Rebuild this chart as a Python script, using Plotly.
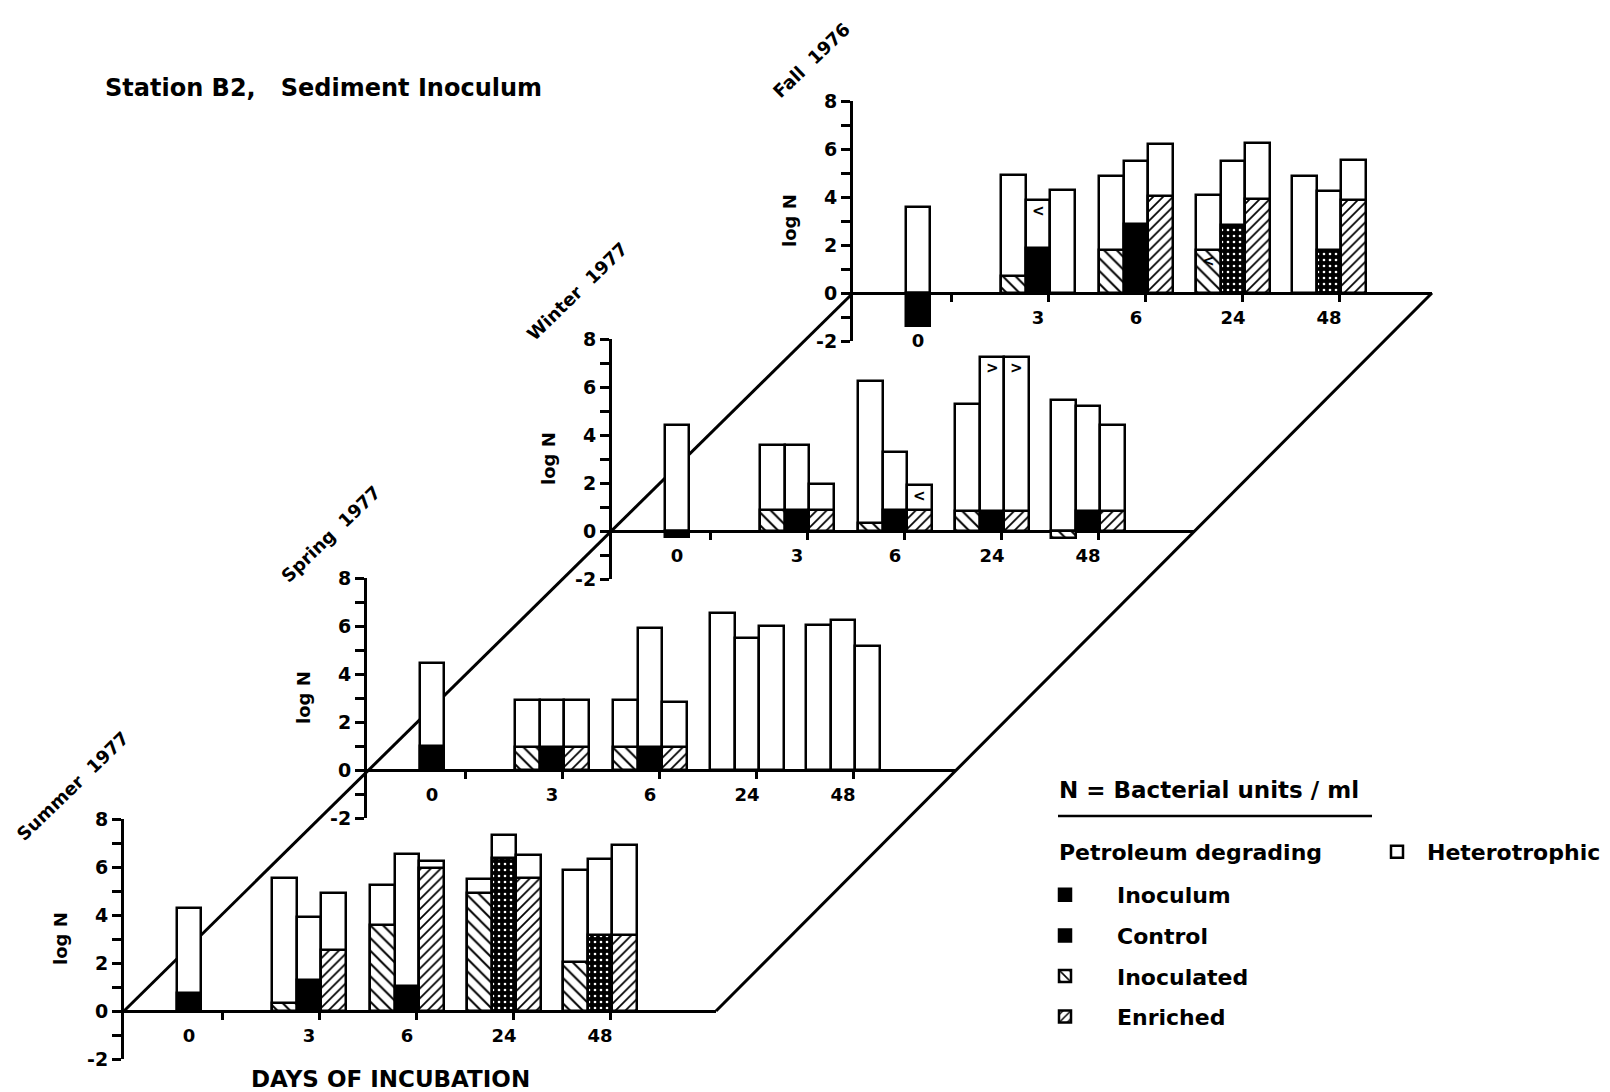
import plotly.graph_objects as go

# ---------------------------------------------------------------- data
SEASONS = ["Summer 1977", "Spring 1977", "Winter 1977", "Fall 1976"]
DAYS = ["0", "3", "6", "24", "48"]
TREATMENTS = ["Inoculated", "Control", "Enriched"]

# Day 0: the sediment inoculum itself (log N), one row per season
DAY0_HETEROTROPHIC = [4.3, 4.45, 4.4, 3.6]
DAY0_INOCULUM = [0.75, 0.98, -0.25, -1.38]

# Days 3, 6, 24, 48 - heterotrophic counts (log N), one row per season
HET_INOCULATED = [
    [5.53, 5.25, 5.5, 5.88],
    [2.9, 2.9, 6.55, 6.04],
    [3.58, 6.27, 5.29, 5.46],
    [4.9, 4.87, 4.07, 4.88],
]
HET_CONTROL = [
    [3.93, 6.55, 7.34, 6.34],
    [2.9, 5.9, 5.5, 6.25],
    [3.58, 3.31, 7.26, 5.21],
    [3.86, 5.48, 5.49, 4.23],
]
HET_ENRICHED = [
    [4.93, 6.23, 6.51, 6.91],
    [2.9, 2.84, 6.01, 5.17],
    [1.96, 1.91, 7.26, 4.42],
    [4.3, 6.22, 6.27, 5.53],
]

# Days 3, 6, 24, 48 - petroleum-degrading counts (log N)
PD_INOCULATED = [
    [0.33, 3.6, 4.9, 2.03],
    [0.95, 0.95, None, None],
    [0.88, 0.35, 0.85, -0.3],
    [0.69, 1.8, 1.8, None],
]
PD_CONTROL = [
    [1.28, 1.05, 6.37, 3.16],
    [0.95, 0.95, None, None],
    [0.88, 0.87, 0.85, 0.83],
    [1.86, 2.88, 2.84, 1.8],
]
PD_ENRICHED = [
    [2.53, 5.95, 5.56, 3.16],
    [0.95, 0.95, None, None],
    [0.88, 0.87, 0.85, 0.83],
    [None, 4.04, 3.9, 3.87],
]

# "<" / ">" qualifiers printed inside bars: season, day, treatment, series, sign
QUALIFIERS = [
    ("Winter 1977", "6", "Enriched", "het", "<"),
    ("Winter 1977", "24", "Control", "het", ">"),
    ("Winter 1977", "24", "Enriched", "het", ">"),
    ("Fall 1976", "3", "Control", "het", "<"),
    ("Fall 1976", "24", "Inoculated", "pd", "<"),
]

# ---------------------------------------------------------------- layout
W, H = 1610, 1092
FONT = "DejaVu Sans, Liberation Sans, sans-serif"
# axis origins (x of the log N axis, y of log N = 0) in page pixels
ORIGINS = [(124, 1011), (367, 770), (612, 531), (853, 293)]
LEFT_EDGE = ((124, 1011), (853, 293))
RIGHT_EDGE = ((716, 1011), (1432, 293))
PX_PER_UNIT = 24
Y_MIN, Y_MAX = -2, 8
GROUP_X = [65, 185, 283, 380, 476]      # group centres, px from the axis
TICK_X = [98, 195, 292, 389, 486]       # tick marks under the base line
BAR_W = 24.5
TITLE_OFFSETS = [(-52, -225), (-37, -236), (-35, -239), (-42, -233)]
CONTROL_DOTTED = [
    [False, False, True, True],
    [False, False, False, False],
    [False, False, False, False],
    [False, False, True, True],
]


def px(x):
    return x / W


def py(y):
    return 1 - y / H


def font(size):
    return dict(family=FONT, size=size, color="black", weight="bold")


def right_end(oy):
    (x0, y0), (x1, y1) = RIGHT_EDGE
    return x0 + (y0 - oy) * (x1 - x0) / (y0 - y1)


OUTLINE = dict(color="black", width=2.5)
STYLE = {
    "het": dict(color="white", line=OUTLINE),
    "Inoculum": dict(color="black", line=OUTLINE),
    "Control": dict(color="black", line=OUTLINE),
    "Inoculated": dict(color="white", line=OUTLINE,
                       pattern=dict(shape="\\", size=9, solidity=0.22,
                                    fgcolor="black", bgcolor="white",
                                    fillmode="replace")),
    "Enriched": dict(color="white", line=OUTLINE,
                     pattern=dict(shape="/", size=7, solidity=0.25,
                                  fgcolor="black", bgcolor="white",
                                  fillmode="replace")),
}
HET = [HET_INOCULATED, HET_CONTROL, HET_ENRICHED]
PD = [PD_INOCULATED, PD_CONTROL, PD_ENRICHED]

fig = go.Figure()
annotations = []
layout_axes = {}

for i, season in enumerate(SEASONS):
    ox, oy = ORIGINS[i]
    xe = right_end(oy)
    sfx = "" if i == 0 else str(i + 1)
    xa, ya = "x" + sfx, "y" + sfx
    first = i == 0

    # heterotrophic bars (white, drawn first)
    fig.add_trace(go.Bar(
        x=[GROUP_X[0]], y=[DAY0_HETEROTROPHIC[i]], width=BAR_W, offset=-BAR_W / 2,
        marker=STYLE["het"], xaxis=xa, yaxis=ya, name="Heterotrophic",
        legend="legend2", legendgroup="het", showlegend=first))
    for k, t in enumerate(TREATMENTS):
        fig.add_trace(go.Bar(
            x=GROUP_X[1:], y=HET[k][i], width=BAR_W, offset=(k - 1.5) * BAR_W,
            marker=STYLE["het"], xaxis=xa, yaxis=ya, name="Heterotrophic",
            legend="legend2", legendgroup="het", showlegend=False))

    # petroleum-degrading bars on top
    fig.add_trace(go.Bar(
        x=[GROUP_X[0]], y=[DAY0_INOCULUM[i]], width=BAR_W, offset=-BAR_W / 2,
        marker=STYLE["Inoculum"], xaxis=xa, yaxis=ya, name="Inoculum",
        legendgroup="Inoculum", legendrank=1, showlegend=first))
    for k, t in enumerate(TREATMENTS):
        marker = dict(STYLE[t])
        if t == "Control":
            marker["pattern"] = dict(
                shape=["." if d else "" for d in CONTROL_DOTTED[i]],
                size=6, solidity=0.15, fgcolor="white", bgcolor="black",
                fillmode="replace")
        fig.add_trace(go.Bar(
            x=GROUP_X[1:], y=PD[k][i], width=BAR_W, offset=(k - 1.5) * BAR_W,
            marker=marker, xaxis=xa, yaxis=ya, name=t, legendgroup=t,
            legendrank={"Control": 2, "Inoculated": 3, "Enriched": 4}[t],
            showlegend=first))

    ydom = [py(oy - Y_MIN * PX_PER_UNIT), py(oy - Y_MAX * PX_PER_UNIT)]
    ticktext = [str(v) if v % 2 == 0 else "" for v in range(Y_MIN, Y_MAX + 1)]
    layout_axes["yaxis" + sfx] = dict(
        domain=ydom, range=[Y_MIN, Y_MAX], anchor=xa,
        tickmode="array", tickvals=list(range(Y_MIN, Y_MAX + 1)), ticktext=ticktext,
        ticks="outside", ticklen=9, tickwidth=2.5, tickcolor="black",
        tickfont=font(19),
        showline=True, linecolor="black", linewidth=3, mirror=False,
        showgrid=False, zeroline=True, zerolinecolor="black", zerolinewidth=3,
        automargin=False, fixedrange=True)
    labels = list(DAYS)
    if DAY0_INOCULUM[i] < -1:
        labels[0] = "<br>0"
    layout_axes["xaxis" + sfx] = dict(
        domain=[px(ox), px(xe)], range=[0, xe - ox], anchor="free",
        position=py(oy),
        tickmode="array", tickvals=GROUP_X, ticktext=labels,
        ticks="outside", ticklen=8, tickcolor="rgba(0,0,0,0)",
        tickfont=font(18),
        minor=dict(tickmode="array", tickvals=TICK_X, ticks="outside",
                   ticklen=8, tickwidth=2.5, tickcolor="black", showgrid=False),
        showline=False, showgrid=False, zeroline=False,
        automargin=False, fixedrange=True)

    # season label and axis title
    dx, dy = TITLE_OFFSETS[i]
    annotations.append(dict(
        text=season.replace(" ", "\u00a0\u00a0"), x=px(ox + dx), y=py(oy + dy),
        xref="paper", yref="paper", xanchor="center", yanchor="middle",
        textangle=-44, showarrow=False, font=font(18)))
    annotations.append(dict(
        text="log N", x=px(ox - 64), y=3, xref="paper", yref=ya,
        xanchor="center", yanchor="middle",
        textangle=-90, showarrow=False, font=font(18)))

# qualifiers inside bars
for season, day, treatment, series, sign in QUALIFIERS:
    i = SEASONS.index(season)
    d = DAYS.index(day)
    k = TREATMENTS.index(treatment)
    value = (HET if series == "het" else PD)[k][i][d - 1]
    sfx = "" if i == 0 else str(i + 1)
    annotations.append(dict(
        text=sign, x=GROUP_X[d] + (k - 1) * BAR_W, y=value - 0.45,
        xref="x" + sfx, yref="y" + sfx, xanchor="center", yanchor="middle",
        showarrow=False, font=font(15)))

annotations += [
    dict(text="Station B2,\u00a0\u00a0 Sediment Inoculum", x=px(103), y=py(88),
         xref="paper", yref="paper", xanchor="left", yanchor="middle",
         showarrow=False, font=font(24)),
    dict(text="DAYS OF INCUBATION", x=px(390), y=py(1079),
         xref="paper", yref="paper", xanchor="center", yanchor="middle",
         showarrow=False, font=font(23)),
    dict(text="N = Bacterial units / ml", x=px(1057), y=py(790),
         xref="paper", yref="paper", xanchor="left", yanchor="middle",
         showarrow=False, font=font(23)),
    dict(text="Petroleum degrading", x=px(1057), y=py(852),
         xref="paper", yref="paper", xanchor="left", yanchor="middle",
         showarrow=False, font=font(22)),
]

shapes = [
    dict(type="line", xref="paper", yref="paper", layer="below",
         x0=px(LEFT_EDGE[0][0]), y0=py(LEFT_EDGE[0][1]),
         x1=px(LEFT_EDGE[1][0]), y1=py(LEFT_EDGE[1][1]),
         line=dict(color="black", width=3)),
    dict(type="line", xref="paper", yref="paper", layer="below",
         x0=px(RIGHT_EDGE[0][0]), y0=py(RIGHT_EDGE[0][1]),
         x1=px(RIGHT_EDGE[1][0]), y1=py(RIGHT_EDGE[1][1]),
         line=dict(color="black", width=3)),
    dict(type="line", xref="paper", yref="paper",
         x0=px(1058), y0=py(816), x1=px(1372), y1=py(816),
         line=dict(color="black", width=2.5)),
]

fig.update_layout(
    width=W, height=H, autosize=False,
    margin=dict(l=0, r=0, t=0, b=0),
    paper_bgcolor="white", plot_bgcolor="rgba(0,0,0,0)",
    barmode="overlay", bargap=0,
    annotations=annotations, shapes=shapes,
    legend=dict(
        x=px(1013), y=py(874), xanchor="left", yanchor="top",
        font=font(22), bgcolor="rgba(0,0,0,0)", itemwidth=94, tracegroupgap=9,
        traceorder="grouped", itemclick=False, itemdoubleclick=False),
    legend2=dict(
        x=px(1367), y=py(852), xanchor="left", yanchor="middle",
        font=font(22), bgcolor="rgba(0,0,0,0)", itemwidth=50,
        itemclick=False, itemdoubleclick=False),
    **layout_axes,
)

fig.write_html("out.html", config={"displayModeBar": False})
